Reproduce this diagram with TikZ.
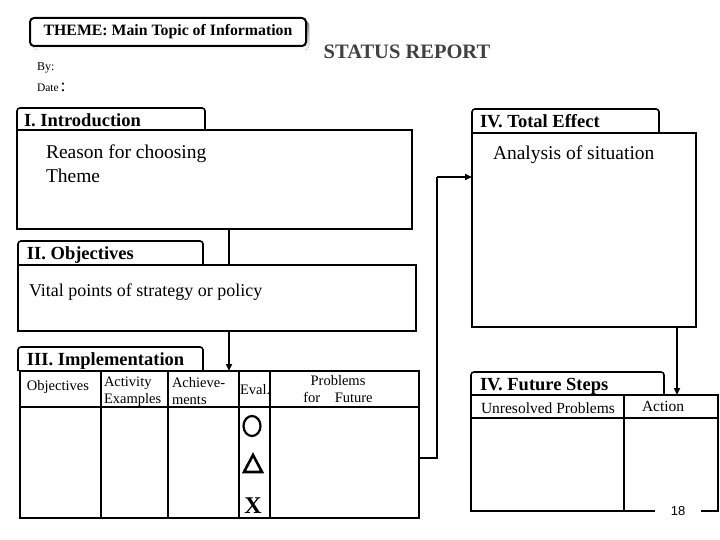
\documentclass[tikz,border=0pt]{standalone}
\usepackage{fontspec}
\setmainfont{Liberation Serif}
\newfontfamily\numfont{Liberation Sans}
\usetikzlibrary{arrows.meta,fit,positioning}
\definecolor{shade}{RGB}{45,5,25}
\definecolor{statusgray}{RGB}{64,64,64}

\begin{document}
\begin{tikzpicture}[x=1pt,y=-1pt]
\tikzstyle{every node}+=[inner sep=0pt,outer sep=0pt]
\tikzset{
  frame/.style={draw, line width=2pt},
  tabline/.style={line width=1.6pt, rounded corners=3pt},
  tabtitle/.style={anchor=base west, font=\bfseries\fontsize{18.5}{19}\selectfont},
  body/.style={anchor=base west, font=\fontsize{19.5}{24}\selectfont},
  head/.style={anchor=base west, font=\fontsize{14.5}{17}\selectfont},
  link/.style={line width=1.6pt},
  tip/.style={-{Triangle[length=7pt,width=6pt]}}
}
\useasboundingbox (0,0) rectangle (720,540);

\fill[shade, rounded corners=4pt] (33,21) rectangle (309,50);
\node[frame, fill=white, rounded corners=4pt, fit={(30,18) (306,46)}] (theme) {};
\node[font=\bfseries\fontsize{15.8}{16}\selectfont] (themetext) at (theme.center) {THEME: Main Topic of Information};
\node[font=\bfseries\fontsize{20.5}{21}\selectfont, text=statusgray] (status) at (407,52) {STATUS REPORT};
\node[anchor=base west, font=\fontsize{12}{14}\selectfont] (by) at (37,71) {By:};
\node[anchor=base west, font=\fontsize{11.5}{14}\selectfont] (date) at (37,92) {Date\,{\fontsize{18}{18}\selectfont:}};

\node[frame, fit={(17,130) (412,229)}] (intro) {};
\draw[tabline] (17,130) -- (17,108) -- (205,108) -- (205,130);
\node[tabtitle] (introtitle) at (24,127) {I. Introduction};
\node[body, align=left, anchor=north west] (reason) at (46,145) {Reason for choosing\\Theme};

\node[frame, fit={(472,133) (696,327)}] (total) {};
\draw[tabline] (472,133) -- (472,109) -- (659,109) -- (659,133);
\node[tabtitle] (totaltitle) at (480,128) {IV. Total Effect};
\node[body] (analysis) at (493,160) {Analysis of situation};

\node[frame, fit={(18,265) (416,331)}] (objbox) {};
\draw[tabline] (18,265) -- (18,241) -- (203,241) -- (203,265);
\node[tabtitle] (objtitle) at (27,259) {II. Objectives};
\node[body, font=\fontsize{18}{20}\selectfont] (vital) at (29,296) {Vital points of strategy or policy};

\node[frame, fit={(20,371) (419,518)}] (impl) {};
\draw[tabline] (18,371) -- (18,347) -- (203,347) -- (203,371);
\node[tabtitle] (impltitle) at (27,365) {III. Implementation};
\draw[frame] (20,407) -- (419,407);
\foreach \cx in {101,168,239,270}
  \draw[frame] (\cx,371) -- (\cx,518);
\node[head] (hobj) at (27,390) {Objectives};
\node[head, align=left, anchor=north west] (hact) at (104,377) {Activity\\Examples};
\node[head, align=left, anchor=north west] (hach) at (172,377) {Achieve-\\ments};
\node[head] (heval) at (240,394) {Eval.};
\node[head, align=center, anchor=north] (hprob) at (338,375) {Problems\\for\quad Future};
\draw[line width=2.2pt] (252,426) ellipse (8.5 and 10);
\draw[line width=2.6pt, line join=miter] (244,472) -- (262,472) -- (253,455) -- cycle;
\node[font=\bfseries\fontsize{24}{24}\selectfont] (cross) at (253,506) {X};

\node[frame, fit={(471,395) (718,511)}] (future) {};
\draw[tabline] (471,395) -- (471,372) -- (664,372) -- (664,395);
\node[tabtitle] (futuretitle) at (480,390) {IV. Future Steps};
\draw[frame] (471,418) -- (718,418);
\draw[frame] (624,395) -- (624,511);
\node[head, font=\fontsize{15.5}{17}\selectfont] (unres) at (481,413) {Unresolved Problems};
\node[head, font=\fontsize{15.5}{17}\selectfont] (action) at (642,411) {Action};
\node[fill=white, minimum width=46pt, minimum height=8pt, font=\numfont\fontsize{13}{14}\selectfont] (page) at (678,511) {18};

\coordinate (spine) at (229,0);
\coordinate (riser) at (437,177);
\coordinate (drop) at (677,0);
\draw[link] (intro.south -| spine) -- (objbox.north -| spine);
\draw[link, tip] (objbox.south -| spine) -- (impl.north -| spine);
\draw[link] ([yshift=-13.5pt]impl.east) -| (riser);
\draw[link, tip] (riser) -- (riser -| total.west);
\draw[link, tip] (total.south -| drop) -- (future.north -| drop);
\end{tikzpicture}
\end{document}
